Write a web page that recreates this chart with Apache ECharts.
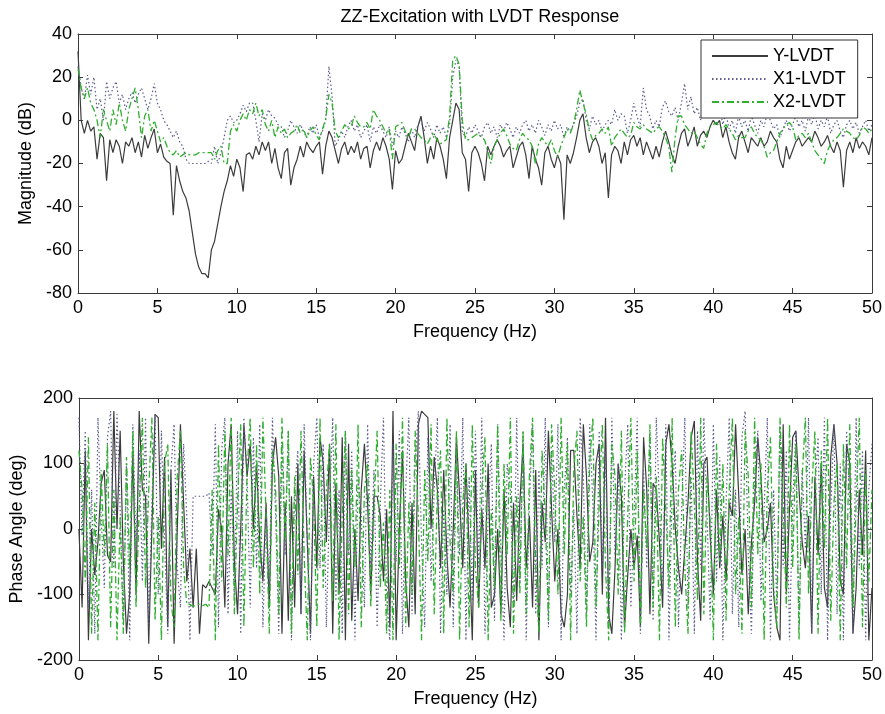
<!DOCTYPE html>
<html><head><meta charset="utf-8">
<script src="https://cdn.jsdelivr.net/npm/echarts@6/dist/echarts.min.js"></script>
<style>html,body{margin:0;padding:0;background:#fff}#c{width:885px;height:714px}</style>
</head><body><div id="c"></div>
<script>
// Frequency grid (Hz), 0.2 Hz spacing
const freq = [
0,0.2,0.4,0.6,0.8,1,1.2,1.4,1.6,1.8,
2,2.2,2.4,2.6,2.8,3,3.2,3.4,3.6,3.8,
4,4.2,4.4,4.6,4.8,5,5.2,5.4,5.6,5.8,
6,6.2,6.4,6.6,6.8,7,7.2,7.4,7.6,7.8,
8,8.2,8.4,8.6,8.8,9,9.2,9.4,9.6,9.8,
10,10.2,10.4,10.6,10.8,11,11.2,11.4,11.6,11.8,
12,12.2,12.4,12.6,12.8,13,13.2,13.4,13.6,13.8,
14,14.2,14.4,14.6,14.8,15,15.2,15.4,15.6,15.8,
16,16.2,16.4,16.6,16.8,17,17.2,17.4,17.6,17.8,
18,18.2,18.4,18.6,18.8,19,19.2,19.4,19.6,19.8,
20,20.2,20.4,20.6,20.8,21,21.2,21.4,21.6,21.8,
22,22.2,22.4,22.6,22.8,23,23.2,23.4,23.6,23.8,
24,24.2,24.4,24.6,24.8,25,25.2,25.4,25.6,25.8,
26,26.2,26.4,26.6,26.8,27,27.2,27.4,27.6,27.8,
28,28.2,28.4,28.6,28.8,29,29.2,29.4,29.6,29.8,
30,30.2,30.4,30.6,30.8,31,31.2,31.4,31.6,31.8,
32,32.2,32.4,32.6,32.8,33,33.2,33.4,33.6,33.8,
34,34.2,34.4,34.6,34.8,35,35.2,35.4,35.6,35.8,
36,36.2,36.4,36.6,36.8,37,37.2,37.4,37.6,37.8,
38,38.2,38.4,38.6,38.8,39,39.2,39.4,39.6,39.8,
40,40.2,40.4,40.6,40.8,41,41.2,41.4,41.6,41.8,
42,42.2,42.4,42.6,42.8,43,43.2,43.4,43.6,43.8,
44,44.2,44.4,44.6,44.8,45,45.2,45.4,45.6,45.8,
46,46.2,46.4,46.6,46.8,47,47.2,47.4,47.6,47.8,
48,48.2,48.4,48.6,48.8,49,49.2,49.4,49.6,49.8,
50];

// Magnitude (dB)
const yMag = [
32,0,-6,0,-5,-3,-18,-6,-8,-28,
-9,-15,-9,-12,-20,-10,-12,-8,-15,-10,
-17,-7,-13,-8,-4,-15,-11,-17,-19,-20,
-44,-21,-28,-33,-36,-42,-52,-62,-68,-71,
-71,-73,-60,-56,-48,-40,-33,-28,-21,-26,
-18,-22,-33,-16,-15,-18,-12,-16,-10,-14,
-10,-20,-13,-22,-27,-15,-13,-30,-22,-18,
-12,-17,-10,-13,-15,-12,-10,-25,-12,-5,
-8,-14,-20,-13,-10,-16,-12,-15,-10,-18,
-13,-12,-22,-14,-10,-14,-8,-12,-18,-32,
-14,-20,-18,-12,-6,-10,-14,-3,2,-8,
-20,-12,-18,-8,-12,-18,-27,-8,0,8,
5,-15,-18,-33,-15,-12,-15,-20,-28,-12,
-16,-12,-9,-12,-17,-14,-12,-22,-17,-12,
-10,-16,-27,-12,-18,-22,-30,-15,-12,-18,
-22,-16,-20,-46,-16,-20,-15,-8,0,3,
-8,-15,-10,-8,-12,-20,-15,-36,-16,-12,
-14,-20,-10,-16,-9,-7,-12,-8,-16,-10,
-14,-18,-12,-17,-10,-5,-10,-16,-20,-12,
-6,-4,-12,-8,-3,-12,-7,-5,-8,-3,
0,-2,0,-8,-3,-10,-15,-18,-8,-5,
-10,-15,-8,-10,-12,-8,-12,-10,-5,-8,
-10,-18,-22,-12,-18,-14,-10,-8,-12,-10,
-8,-10,-5,-8,-12,-10,-7,-12,-15,-10,
-14,-31,-14,-10,-15,-8,-13,-10,-12,-16,
-8];

const x1Mag = [
25,15,10,21,12,20,5,10,0,18,
10,15,18,8,12,5,10,13,8,12,
15,10,5,10,17,8,5,0,-2,-5,
-8,-5,-10,-12,-18,-20,-20,-20,-20,-20,
-20,-19,-20,-12,-20,-15,-8,0,2,-1,
0,3,7,4,8,8,0,-10,3,0,
5,2,1,-2,-3,-8,-5,0,-3,-6,
-2,-5,-8,-3,-6,-2,-8,-5,0,25,
11,-12,-9,-5,-8,-3,0,-5,-2,-8,
-5,-2,-10,-3,-6,-2,-5,-8,-3,-12,
-5,-8,-3,-6,-10,-4,-8,-2,0,-5,
-1,-4,-8,-2,-6,-3,-8,-2,20,28,
25,-5,-8,-3,-6,-2,-5,-8,-3,-1,
-6,-3,-8,-2,-5,-1,-4,-8,-3,-6,
-2,0,-5,-2,-6,0,-3,-7,-2,-5,
0,-4,-2,-8,-3,-5,-2,2,8,10,
0,-4,2,-2,0,-5,-2,0,-2,5,
0,3,2,-6,0,8,2,-3,15,5,
2,-4,0,-3,6,9,4,2,6,0,
8,17,5,11,3,6,0,8,4,3,
5,2,8,-2,3,-4,0,-6,2,-3,
0,-5,2,-2,-6,0,-3,3,0,-4,
-2,-8,-4,0,-5,-2,2,-3,0,-5,
2,-2,3,-4,0,-3,2,-6,-2,0,
-5,-8,-2,0,-4,-1,-6,-3,0,-5,
-2];

const x2Mag = [
24,15,10,15,8,5,0,-8,5,0,
-5,5,-2,8,0,-5,5,10,15,5,
-8,2,5,-5,0,-5,-10,-8,-12,-15,
-16,-14,-17,-16,-15,-16,-16,-16,-15,-15,
-15,-15,-15,-18,-14,-12,-20,-20,-5,-2,
-5,0,3,0,5,3,8,2,5,-2,
-5,0,-8,-3,-6,-4,-8,-6,-5,-2,
-6,-4,-8,-5,-3,-7,-9,-4,1,12,
8,-5,-8,-5,-2,-4,-3,2,-1,-3,
-3,-1,-4,5,2,0,-3,-6,-4,-18,
-3,-2,-1,-5,-8,-4,-4,-6,-8,-9,
-11,-8,-6,-9,-11,-10,-9,2,28,30,
26,0,-9,-9,-8,-7,-6,-8,-9,-14,
-20,-12,-9,-6,-4,-7,-11,-13,-14,-9,
-6,-8,-9,-12,-20,-11,-8,-10,-12,-9,
-14,-17,-12,-8,-4,-6,-2,5,14,8,
3,-5,-9,-7,-6,-4,-6,-3,-12,-8,
-6,-4,-6,-8,-7,-1,-3,-4,-2,-4,
-5,-6,-4,-3,-5,-8,-12,-24,-8,2,
2,-2,-4,-6,-5,-8,-11,-13,-6,-3,
-2,-1,-3,-4,-2,-4,-6,-9,-7,-8,
-8,-5,-3,-6,-8,-9,-12,-17,-15,-14,
-10,-6,-4,-2,-1,-3,-9,-7,-6,-8,
-6,-10,-14,-16,-18,-20,-14,-11,-9,-8,
-6,-4,-5,-6,-8,-9,-7,-3,-4,-6,
-4];

// Phase angle (deg)
const yPhase = [
0,-120,120,-170,0,-70,-20,70,90,-40,
-50,180,0,150,-50,-160,-100,120,-100,180,
60,50,-175,0,175,170,-30,110,-150,90,
-175,0,160,40,-80,-30,-120,-30,-160,-85,
-90,-80,-90,-100,30,0,-120,100,160,-50,
-130,0,160,80,130,0,100,-20,-80,40,
-120,100,140,80,-160,40,-140,50,-120,100,
-130,120,-20,-160,80,-60,140,100,-20,130,
-160,70,-100,140,-170,130,-140,0,-110,60,
130,40,-100,50,50,20,-80,30,-150,180,
-170,0,120,-80,-150,40,-130,160,180,175,
170,0,110,60,-60,90,-40,-120,0,140,
50,-60,100,-30,-170,90,-120,30,-60,100,
-120,-100,0,-130,60,-90,-150,40,-110,40,
130,-60,20,-120,90,-170,40,-20,150,30,
-80,0,-130,-150,-100,120,120,20,-60,160,
80,-50,-20,100,130,-100,170,-130,-160,-60,
100,50,-150,-70,0,-60,-10,-150,140,60,
-130,70,60,-20,-120,130,160,100,0,-60,
-100,-30,40,140,165,-50,-140,100,110,-10,
-100,60,-60,20,-80,40,20,160,50,-70,
0,-130,-20,40,140,80,-20,0,40,-100,
-150,-170,160,-100,30,140,150,60,-20,-60,
20,-160,80,-40,100,-90,-120,110,160,100,
-80,-100,130,100,-160,-90,60,-40,120,-170,
-90];

const x1Phase = [
170,-10,150,-120,60,-160,170,20,-90,140,
180,-60,175,30,-140,100,-170,160,-30,120,
-80,170,-150,40,175,-100,150,-20,-160,90,
160,-60,-120,130,20,-170,50,50,50,50,
50,55,-40,160,-150,120,170,-130,60,-100,
150,-160,170,80,-120,140,-60,160,-150,30,
-90,170,20,-160,130,-40,150,-170,60,120,
-130,160,-20,-170,100,170,-60,130,-150,40,
170,-110,60,-160,150,-40,120,-170,80,20,
-120,160,-60,90,-150,40,170,-100,-170,130,
-50,150,-160,60,170,-130,100,180,-20,-150,
140,-80,60,170,-160,30,-100,160,-150,110,
-40,170,-170,80,-110,150,-60,170,-160,20,
130,-140,160,-30,-170,100,60,-120,170,-80,
150,-170,40,160,-130,90,-60,170,-150,120,
-20,160,-170,60,140,-100,30,-160,170,80,
-130,160,40,-170,150,-60,120,-150,170,-40,
100,-170,60,160,-120,20,170,-160,90,-60,
150,-140,170,40,-100,160,-170,60,120,-150,
30,170,-120,80,-160,150,-60,170,20,-140,
160,-80,110,-170,40,170,-130,60,-150,140,
180,-40,-160,80,150,-110,30,170,-170,60,
-120,160,-60,120,-170,40,150,-150,90,-30,
170,-160,60,140,-100,170,-170,30,160,-130,
100,-170,150,40,-160,170,-60,120,-170,60,
130];

const x2Phase = [
120,60,-80,140,-160,40,-170,90,-40,130,
-150,60,-170,20,-160,110,-60,150,-120,30,
170,-90,60,170,-140,20,-170,100,130,-110,
-150,80,150,-60,-115,-115,-118,-116,-115,-117,
-115,-120,60,-170,130,-80,150,-40,170,-130,
40,160,-150,90,170,-60,130,-100,170,20,
-160,120,60,-130,170,-20,150,-160,80,-70,
150,-40,-170,110,40,-150,170,-90,60,130,
-110,160,-170,20,150,-130,90,-60,160,-150,
60,100,-120,30,150,-90,10,-160,60,-170,
130,-60,170,-150,40,-100,150,20,-170,90,
-50,160,-130,60,120,-160,170,-20,-100,150,
-170,40,100,-150,160,-60,-120,60,140,-170,
30,-90,160,-140,100,-40,170,-160,50,-100,
150,-130,80,170,-60,-160,120,20,-140,160,
60,-100,170,-40,130,-170,90,150,-80,20,
-150,100,170,-120,40,160,-60,-170,130,80,
-100,150,-160,20,170,-80,120,-150,60,-30,
160,-120,80,-170,140,30,-90,170,-150,60,
120,-60,-160,150,40,-110,170,-130,80,10,
-170,130,-50,100,-140,60,170,-100,20,-160,
150,80,-120,170,-40,100,-170,60,140,-90,
-150,170,40,-120,160,-60,130,-170,80,170,
-100,60,150,-160,120,-30,170,-140,40,100,
-170,130,-60,160,-120,40,170,-150,90,-80,
60];

const seriesNames = ['Y-LVDT', 'X1-LVDT', 'X2-LVDT'];
const magTicks = {min: -80, max: 40, interval: 20};
const phaseTicks = {min: -200, max: 200, interval: 100};
const freqTicks = {min: 0, max: 50, interval: 5};

function pairs(v) {
  const n = Math.min(freq.length, v.length);
  const out = [];
  for (let i = 0; i < n; i++) out.push([freq[i], v[i]]);
  return out;
}

const FONT = 'Liberation Sans, Arial, sans-serif';
const axisColor = '#3a3a3a';
const styles = [
  {color: '#3c3c3c', width: 1.2, type: 'solid'},
  {color: '#5b5b8c', width: 1.2, type: [1.5, 2.5]},
  {color: '#2faf2f', width: 1.3, type: [7, 3, 2, 3]}
];

function xAx(grid, pos, labels) {
  return {
    type: 'value', gridIndex: grid, position: pos,
    min: freqTicks.min, max: freqTicks.max, interval: freqTicks.interval,
    axisLine: {show: true, onZero: false, lineStyle: {color: axisColor, width: 1}},
    axisTick: {show: true, inside: true, length: 5, lineStyle: {color: axisColor}},
    axisLabel: {show: labels, fontSize: 18, color: '#000', fontFamily: FONT, margin: 6},
    splitLine: {show: false},
    name: labels ? 'Frequency (Hz)' : '', nameLocation: 'middle', nameGap: 30,
    nameTextStyle: {fontSize: 18, color: '#000', fontFamily: FONT}
  };
}
function yAx(grid, pos, labels, ticks, name, gap) {
  return {
    type: 'value', gridIndex: grid, position: pos,
    min: ticks.min, max: ticks.max, interval: ticks.interval,
    axisLine: {show: true, onZero: false, lineStyle: {color: axisColor, width: 1}},
    axisTick: {show: true, inside: true, length: 5, lineStyle: {color: axisColor}},
    axisLabel: {show: labels, fontSize: 18, color: '#000', fontFamily: FONT, margin: 6},
    splitLine: {show: false},
    name: labels ? name : '', nameLocation: 'middle', nameGap: gap, nameRotate: 90,
    nameTextStyle: {fontSize: 18, color: '#000', fontFamily: FONT}
  };
}

const magData = [yMag, x1Mag, x2Mag];
const phaseData = [yPhase, x1Phase, x2Phase];
const series = [];
seriesNames.forEach((nm, i) => {
  series.push({name: nm, type: 'line', xAxisIndex: 0, yAxisIndex: 0, data: pairs(magData[i]),
    symbol: 'none', showSymbol: false, lineStyle: styles[i], itemStyle: {color: styles[i].color},
    z: 2 + i, animation: false});
});
seriesNames.forEach((nm, i) => {
  series.push({name: nm, type: 'line', xAxisIndex: 2, yAxisIndex: 2, data: pairs(phaseData[i]),
    symbol: 'none', showSymbol: false, lineStyle: styles[i], itemStyle: {color: styles[i].color},
    z: 2 + i, animation: false});
});

const chart = echarts.init(document.getElementById('c'), null, {renderer: 'canvas'});
chart.setOption({
  backgroundColor: '#fff',
  animation: false,
  title: {text: 'ZZ-Excitation with LVDT Response', left: 475, top: 3, textAlign: 'center',
    textStyle: {fontSize: 18, fontWeight: 'normal', color: '#000', fontFamily: FONT}},
  legend: {
    data: seriesNames, orient: 'vertical', left: 701, top: 40,
    padding: [7, 12, 7, 10], itemGap: 5, itemWidth: 56, itemHeight: 18,
    itemStyle: {opacity: 0},
    backgroundColor: '#fff', borderColor: '#333', borderWidth: 1, borderRadius: 0,
    textStyle: {fontSize: 18, color: '#000', fontFamily: FONT},
    z: 10
  },
  grid: [
    {left: 78, top: 34, width: 794, height: 259, show: false},
    {left: 78, top: 398, width: 794, height: 262, show: false}
  ],
  xAxis: [xAx(0, 'bottom', true), xAx(0, 'top', false), xAx(1, 'bottom', true), xAx(1, 'top', false)],
  yAxis: [
    yAx(0, 'left', true, magTicks, 'Magnitude (dB)', 41),
    yAx(0, 'right', false, magTicks, '', 0),
    yAx(1, 'left', true, phaseTicks, 'Phase Angle (deg)', 46),
    yAx(1, 'right', false, phaseTicks, '', 0)
  ],
  series: series
});
</script></body></html>
